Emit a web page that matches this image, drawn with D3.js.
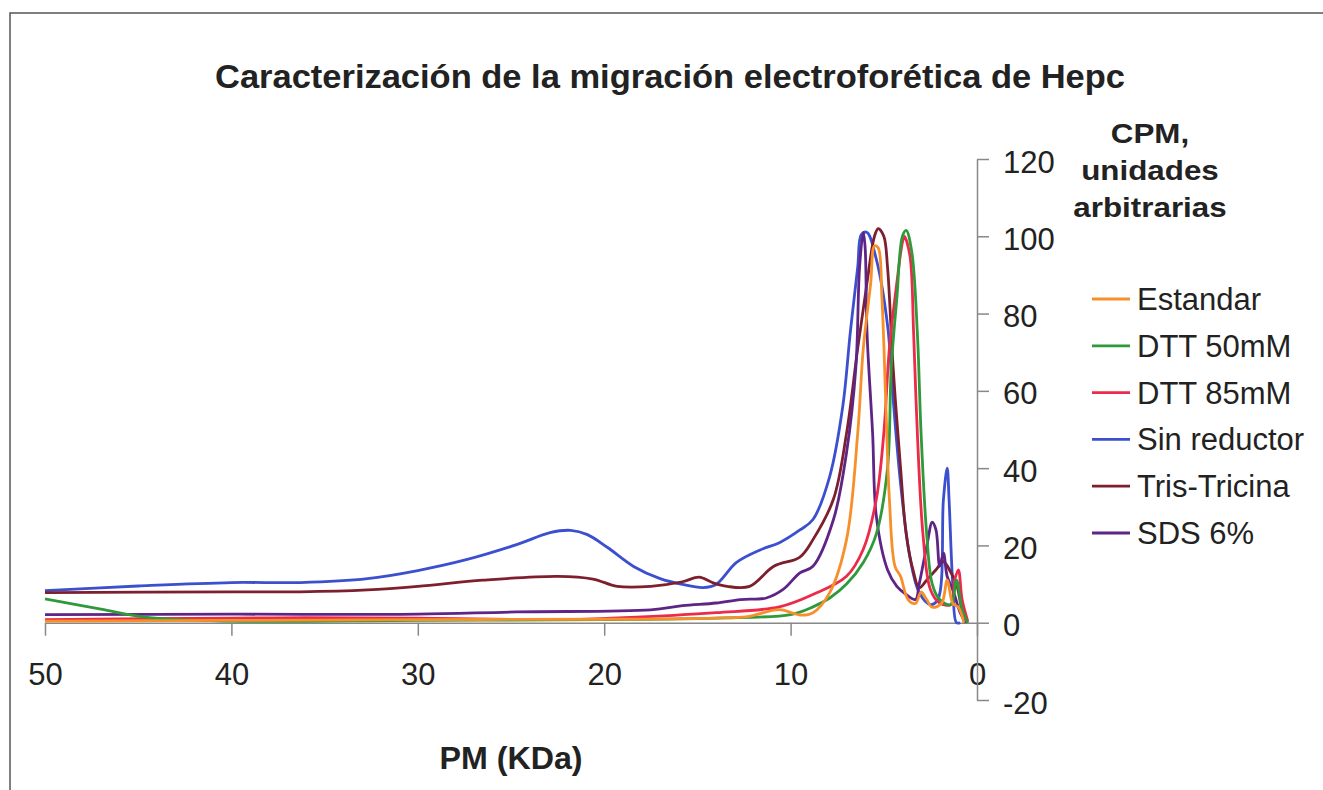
<!DOCTYPE html>
<html>
<head>
<meta charset="utf-8">
<script src="https://cdn.jsdelivr.net/npm/d3@7"></script>
<style>
  body { margin: 0; background: #fff; }
  text { font-family: Arial, 'Liberation Sans', sans-serif; fill: #222; }
</style>
</head>
<body>
<div id="chart"></div>
<script>
const width = 1323
const height = 790

// series: [PM (KDa), CPM]
const seriesNames = ['Sin reductor', 'Tris-Tricina', 'SDS 6%', 'DTT 85mM', 'DTT 50mM', 'Estandar']
const legendOrder = ['Estandar', 'DTT 50mM', 'DTT 85mM', 'Sin reductor', 'Tris-Tricina', 'SDS 6%']
const colors = ['#3b4fcf', '#7e1f2e', '#5e2587', '#ec2a4a', '#2f9a3a', '#f7902a']

const sinReductor = [
  [50, 8.3], [45, 9.5], [40, 10.4], [36.3, 10.4], [32.7, 11.4], [30, 13.5], [27.4, 16.3],
  [24.7, 20.2], [22.9, 23.3], [21.8, 23.9], [20.9, 22.8], [19.8, 19.4], [18.4, 14.5],
  [17, 11.4], [15.8, 9.9], [14.7, 9.1], [14, 9.9], [12.9, 15.6], [11.6, 18.9], [10.6, 20.7],
  [9.5, 24], [8.8, 26.7], [7.9, 37.9], [7.2, 56], [6.8, 75], [6.4, 92], [6.2, 100.5],
  [5.9, 101], [5.4, 94], [4.8, 77], [4.5, 58], [4.1, 36], [3.6, 17], [3.1, 7.8], [2.5, 4.7],
  [2.1, 6], [1.8, 32], [1.6, 40], [1.5, 32], [1.3, 10], [1.1, 0], [0.9, 0]
]
const trisTricina = [
  [50, 7.8], [40, 8], [36.3, 8], [32.7, 8.5], [30, 9.4], [26.5, 11], [22.5, 12], [20.6, 11.3],
  [19.3, 9.4], [17.5, 9.4], [15.8, 10.6], [14.9, 11.8], [14.2, 10.4], [13.4, 9.4], [12.2, 9.4],
  [10.9, 14.6], [9.5, 17], [8.8, 21.5], [7.7, 32], [7.0, 49], [6.4, 71], [5.9, 88], [5.5, 100],
  [5.3, 102], [5.0, 100], [4.8, 92], [4.5, 66], [4.1, 40], [3.8, 23], [3.4, 13], [3.1, 9],
  [2.7, 11], [2.2, 13.7], [1.8, 15.8], [1.4, 13], [1.1, 10], [0.8, 3.4], [0.5, 0]
]
const sds6 = [
  [50, 2.1], [40, 2.2], [30, 2.2], [24.7, 2.8], [17.5, 3.3], [15.8, 4.4], [14, 5.1], [12.7, 6],
  [11.3, 6.4], [10.4, 8.6], [9.5, 12.9], [8.8, 14.6], [7.7, 26.7], [7.0, 44], [6.5, 66],
  [6.3, 92], [6.1, 101], [6.0, 97], [5.9, 75], [5.6, 49], [5.4, 27.5], [4.8, 13.7], [4.3, 9.4],
  [3.8, 7.3], [3.3, 6], [3.1, 10], [2.7, 19.7], [2.4, 26], [2.2, 24], [2.0, 14.6], [1.8, 18],
  [1.6, 12], [1.3, 8.6], [0.9, 2.6], [0.6, 0]
]
const dtt85 = [
  [50, 0.8], [40, 1.2], [36, 1.3], [30, 1.2], [22, 0.8], [18, 1.5], [14, 2.6], [10.6, 4.1],
  [8.8, 7.3], [7, 12], [6.1, 19], [5.4, 32], [5.0, 49], [4.7, 71], [4.3, 88], [4.0, 98.5],
  [3.9, 100], [3.6, 95], [3.4, 75], [3.2, 49], [2.9, 23], [2.5, 8.6], [2.0, 5.1], [1.4, 4.7],
  [1.2, 11], [1.0, 13.7], [0.8, 6], [0.5, 0.5]
]
const dtt50 = [
  [50, 6.2], [47, 3.5], [44.4, 1.3], [40, 0.4], [30, 0.6], [20, 0.8], [14, 1.2], [10, 2.1],
  [8.8, 4.1], [7.9, 6.4], [7, 10], [6.1, 15.6], [5.4, 23], [4.8, 40], [4.6, 66], [4.3, 84],
  [4.0, 100], [3.8, 101.5], [3.5, 96], [3.2, 75], [3.0, 49], [2.7, 23], [2.4, 10], [2.0, 6],
  [1.4, 4.7], [1.1, 11], [0.8, 3.4], [0.5, 0]
]
const estandar = [
  [50, 0.4], [40, 0.6], [30, 0.8], [20, 0.9], [14, 1.2], [12.3, 1.6], [10.6, 3.4], [9.5, 2],
  [8.8, 2.6], [7.9, 7.8], [7, 21.5], [6.4, 49], [6.1, 71], [5.7, 88], [5.5, 97.5], [5.3, 97],
  [5.1, 84], [4.9, 58], [4.7, 32], [4.4, 14.6], [4.1, 12], [3.7, 6], [3.3, 5], [3.0, 8],
  [2.7, 6], [2.4, 4], [1.9, 5], [1.6, 11], [1.3, 5], [1.0, 4], [0.7, 0]
]
const seriesData = [sinReductor, trisTricina, sds6, dtt85, dtt50, estandar]

const xTicks = [50, 40, 30, 20, 10, 0]
const yTicks = [-20, 0, 20, 40, 60, 80, 100, 120]

const svg = d3
  .select('#chart')
  .append('svg')
  .attr('width', width)
  .attr('height', height)

// frame
svg
  .append('rect')
  .attr('x', 10)
  .attr('y', 13)
  .attr('width', 1340)
  .attr('height', 800)
  .attr('fill', 'none')
  .attr('stroke', '#555')
  .attr('stroke-width', 1.5)

const xScale = d3.scaleLinear().domain([50, 0]).range([45, 977])
const yScale = d3.scaleLinear().domain([-20, 120]).range([700, 159])

const colorScale = d3.scaleOrdinal().domain(seriesNames).range(colors)

// x axis on the zero line
const xAxis = svg
  .append('g')
  .attr('transform', `translate(0,${yScale(0)})`)
  .call(
    d3
      .axisBottom(xScale)
      .tickValues(xTicks)
      .tickSize(13)
      .tickPadding(27)
      .tickSizeOuter(0)
      .tickFormat(d => String(d))
  )

// y axis on the right, at x = 0
const yAxis = svg
  .append('g')
  .attr('transform', `translate(${xScale(0)},0)`)
  .call(
    d3
      .axisRight(yScale)
      .tickValues(yTicks)
      .tickSize(12)
      .tickPadding(14)
      .tickSizeOuter(0)
      .tickFormat(d => String(d))
  )

;[xAxis, yAxis].forEach(ax => {
  ax.select('.domain').attr('stroke', '#888').attr('stroke-width', 1.5)
  ax.selectAll('.tick line').attr('stroke', '#888').attr('stroke-width', 1.5)
  ax.selectAll('.tick text')
    .attr('font-size', 31)
    .attr('fill', '#222')
    .style('font-family', 'Arial, "Liberation Sans", sans-serif')
})
yAxis.selectAll('.tick text').attr('dy', '0.42em')

// lines
const line = d3
  .line()
  .x(d => xScale(d[0]))
  .y(d => yScale(d[1]))
  .curve(d3.curveCatmullRom.alpha(0.5))

svg
  .selectAll('.series')
  .data(seriesData)
  .enter()
  .append('path')
  .attr('class', 'series')
  .attr('d', line)
  .attr('fill', 'none')
  .attr('stroke', (d, i) => colorScale(seriesNames[i]))
  .attr('stroke-width', 2.8)
  .attr('stroke-linejoin', 'round')

// title
svg
  .append('text')
  .attr('x', 670)
  .attr('y', 88)
  .attr('text-anchor', 'middle')
  .attr('font-size', 33)
  .attr('font-weight', 'bold')
  .attr('textLength', 910)
  .attr('lengthAdjust', 'spacingAndGlyphs')
  .text('Caracterización de la migración electroforética de Hepc')

// x axis title
svg
  .append('text')
  .attr('x', 511)
  .attr('y', 769)
  .attr('text-anchor', 'middle')
  .attr('font-size', 31)
  .attr('font-weight', 'bold')
  .attr('textLength', 143)
  .attr('lengthAdjust', 'spacingAndGlyphs')
  .text('PM (KDa)')

// y axis title, next to the legend
const yTitle = ['CPM,', 'unidades', 'arbitrarias']
svg
  .selectAll('.y-title')
  .data(yTitle)
  .enter()
  .append('text')
  .attr('class', 'y-title')
  .attr('x', 1150)
  .attr('y', (d, i) => 143 + i * 37)
  .attr('text-anchor', 'middle')
  .attr('font-size', 28)
  .attr('font-weight', 'bold')
  .attr('transform', 'translate(1150,0) scale(1.12,1) translate(-1150,0)')
  .text(d => d)

// legend
svg
  .selectAll('.legend')
  .data(legendOrder)
  .enter()
  .append('g')
  .attr('class', 'legend')
  .each(function(d, i) {
    const g = d3.select(this)
    const y = 310 + i * 46.8

    g.append('line')
      .attr('x1', 1092)
      .attr('x2', 1130)
      .attr('y1', y - 11)
      .attr('y2', y - 11)
      .attr('stroke', colorScale(d))
      .attr('stroke-width', 2.8)

    g.append('text')
      .attr('x', 1137)
      .attr('y', y)
      .attr('font-size', 31)
      .text(d)
  })
</script>
</body>
</html>
